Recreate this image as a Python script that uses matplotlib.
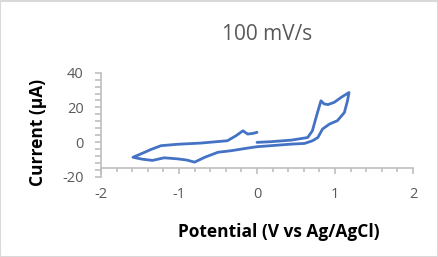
import numpy as np
import matplotlib.pyplot as plt
from matplotlib.patches import Rectangle
from matplotlib.ticker import MultipleLocator

plt.rcParams["axes.unicode_minus"] = False

# cyclic voltammogram at 100 mV/s
# forward scan 0 -> +1.18 V
fwd_v = [0.0, 0.18, 0.44, 0.65, 0.71, 0.77, 0.82, 0.86, 0.91, 0.99, 1.08, 1.18]
fwd_i = [-0.2, 0.2, 1.1, 2.6, 6.5, 16.2, 23.8, 22.0, 21.6, 22.9, 25.8, 28.6]
# reverse scan +1.18 -> -1.6 V
rev_v = [1.18, 1.16, 1.12, 1.03, 0.93, 0.84, 0.78, 0.71, 0.61, 0.44, 0.18, 0.0,
         -0.12, -0.33, -0.5, -0.67, -0.8, -0.9, -1.02, -1.19, -1.34, -1.47, -1.59]
rev_i = [28.6, 23.8, 17.0, 12.3, 10.4, 7.5, 2.6, 0.7, -0.8, -1.2, -2.1, -2.7,
         -3.5, -5.0, -5.9, -8.8, -11.6, -10.4, -9.7, -9.1, -10.6, -9.9, -8.8]
# return scan -1.6 -> 0 V
ret_v = [-1.59, -1.44, -1.36, -1.23, -1.02, -0.72, -0.38, -0.27, -0.18, -0.12, -0.05, 0.0]
ret_i = [-8.8, -5.9, -4.3, -2.1, -1.3, -0.6, 0.75, 3.6, 6.5, 4.6, 5.0, 5.6]

potential = fwd_v + rev_v[1:] + ret_v[1:]
current = fwd_i + rev_i[1:] + ret_i[1:]

grey = "#595959"
axis_grey = "#BFBFBF"

fig = plt.figure(figsize=(4.39, 2.57), dpi=100)
ax = fig.add_axes([101 / 439, 1 - 176.7 / 257, 312 / 439, 104 / 257])

ax.plot(potential, current, color="#4472C4", linewidth=2.0,
        solid_joinstyle="round", solid_capstyle="round")

ax.set_xlim(-2, 2)
ax.set_ylim(-20, 40)

for s in ["top", "right"]:
    ax.spines[s].set_visible(False)
ax.spines["left"].set_color(axis_grey)
ax.spines["bottom"].set_color(axis_grey)
ax.spines["left"].set_linewidth(1.2)
ax.spines["bottom"].set_linewidth(1.2)
ax.spines["bottom"].set_position(("data", -15))

ax.xaxis.set_major_locator(MultipleLocator(1))
ax.xaxis.set_minor_locator(MultipleLocator(0.2))
ax.yaxis.set_major_locator(MultipleLocator(20))
ax.yaxis.set_minor_locator(MultipleLocator(4))

ax.tick_params(axis="x", which="major", direction="out", length=4.5, width=1.2,
               color=axis_grey, labelcolor=grey, labelsize=10.5, pad=9)
ax.tick_params(axis="x", which="minor", direction="out", length=3, width=1.2,
               color=axis_grey)
ax.tick_params(axis="y", which="both", direction="out", length=4.5, width=1.2,
               color=axis_grey, labelcolor=grey, labelsize=10.5, pad=8)
for lab in ax.get_xticklabels() + ax.get_yticklabels():
    lab.set_family("Open Sans")

fig.text(267.5 / 439, 1 - 35 / 257, "100 mV/s", ha="center", va="center",
         fontsize=15, color=grey, family="Open Sans")
fig.text(279 / 439, 1 - 232 / 257, "Potential (V vs Ag/AgCl)", ha="center",
         va="center", fontsize=12.5, fontweight="bold", color="black", family="Open Sans")
fig.text(38 / 439, 1 - 132 / 257, "Current (µA)", ha="center", va="center",
         rotation=90, fontsize=12.5, fontweight="bold", color="black", family="Open Sans")

# chart area border
fig.patches.append(Rectangle((0.5 / 439, 0.5 / 257), 437.5 / 439, 255.5 / 257,
                             transform=fig.transFigure, fill=False,
                             edgecolor="#D9D9D9", linewidth=1.5))

fig.savefig("out.png", dpi=100)
